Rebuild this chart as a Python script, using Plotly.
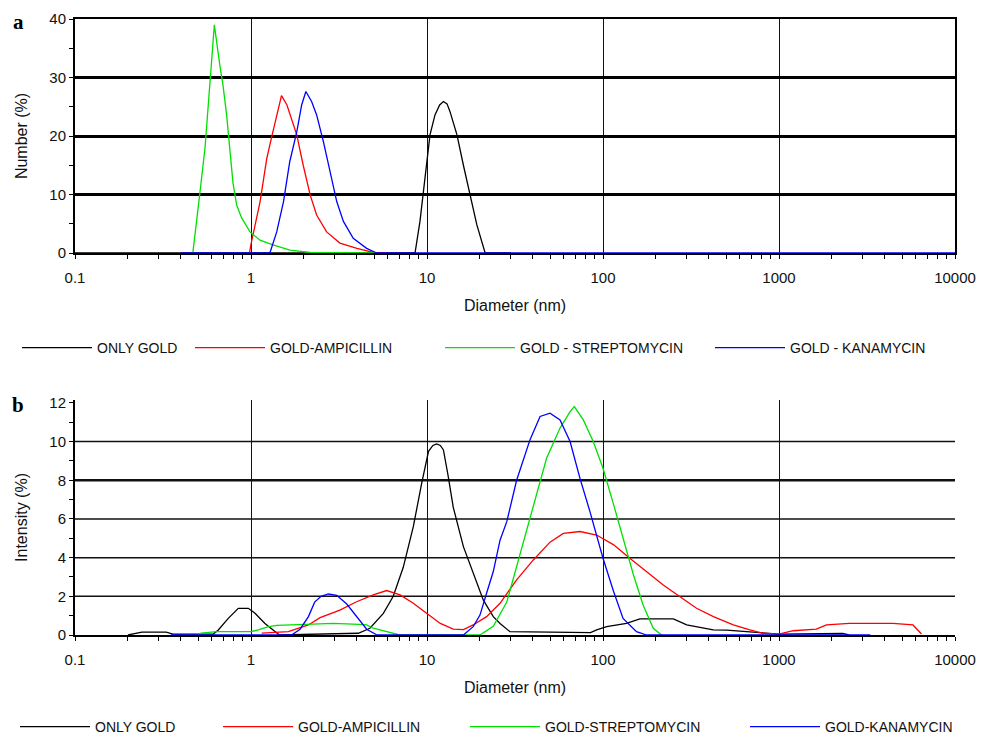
import plotly.graph_objects as go

# ---------------- DATA ----------------
series_names_a = ["ONLY GOLD", "GOLD-AMPICILLIN", "GOLD - STREPTOMYCIN", "GOLD - KANAMYCIN"]
series_names_b = ["ONLY GOLD", "GOLD-AMPICILLIN", "GOLD-STREPTOMYCIN", "GOLD-KANAMYCIN"]
series_colors = ["#000000", "#ff0000", "#00e000", "#0000ff"]

x_tick_vals = [0.1, 1, 10, 100, 1000, 10000]
x_tick_text = ["0.1", "1", "10", "100", "1000", "10000"]
y_ticks_a = [0, 10, 20, 30, 40]
y_ticks_b = [0, 2, 4, 6, 8, 10, 12]
grid_b = [2, 4, 6, 8, 10]

# Panel a: Number (%)
gold_a_x = [0.1, 8.55, 9.12, 9.75, 10.4, 11.1, 11.8, 12.4, 13.0, 13.5, 14.8, 16.1, 17.5, 19.2, 21.4, 30]
gold_a_y = [0, 0, 5.4, 13.3, 20.2, 23.6, 25.3, 25.9, 25.5, 24.2, 20.2, 15.0, 9.9, 4.8, 0, 0]

amp_a_x = [0.98, 1.0, 1.125, 1.23, 1.31, 1.40, 1.49, 1.60, 1.70, 1.82, 1.98, 2.17, 2.36, 2.69, 3.2, 4.0, 4.95, 6.0]
amp_a_y = [0, 1.5, 8.7, 16.2, 19.8, 23.6, 26.9, 25.3, 22.7, 20.2, 15.0, 9.9, 6.5, 3.6, 1.7, 0.8, 0.1, 0]

strep_a_x = [0.467, 0.481, 0.513, 0.548, 0.585, 0.619, 0.666, 0.693, 0.727, 0.760, 0.790, 0.829, 0.885,
             0.987, 1.125, 1.334, 1.666, 2.17, 5.1]
strep_a_y = [0, 3.6, 10.4, 18, 30, 39, 32, 28.7, 23.6, 16.8, 12, 8.2, 6, 3.6, 2.2, 1.4, 0.5, 0.1, 0]

kan_a_x = [0.4, 1.28, 1.40, 1.53, 1.66, 1.82, 1.94, 2.05, 2.21, 2.36, 2.58, 2.81, 3.07, 3.35, 3.81, 4.54,
           5.18, 10000]
kan_a_y = [0, 0, 3.6, 8.8, 15.6, 20.7, 25.3, 27.6, 25.9, 23.6, 19.0, 13.9, 8.8, 5.4, 2.5, 0.8, 0, 0]

# Panel b: Intensity (%)
gold_b_x = [0.2, 0.21, 0.24, 0.33, 0.36, 0.61, 0.652, 0.743, 0.847, 0.966, 1.054, 1.2, 1.37, 1.45, 4.07,
            4.74, 5.65, 6.43, 7.33, 8.36, 9.33, 10.2, 10.8, 11.35, 11.9, 12.4, 13.2, 14.1, 16.1, 18.3, 20.9,
            23.8, 26, 29.6, 85, 92, 105, 136, 162, 251, 299, 423, 505, 777, 1000, 2300, 2500]
gold_b_y = [0, 0.05, 0.15, 0.15, 0.05, 0.05, 0.26, 0.86, 1.38, 1.38, 1.12, 0.6, 0.17, 0, 0.09,
            0.35, 1.12, 2.0, 3.5, 5.6, 7.85, 9.5, 9.8, 9.88, 9.8, 9.57, 8.2, 6.6, 4.57, 3.2, 1.8,
            0.95, 0.6, 0.17, 0.12, 0.26, 0.43, 0.6, 0.83, 0.83, 0.52, 0.26, 0.25, 0.12, 0.05, 0.08, 0]

amp_b_x = [1.15, 1.63, 2.12, 2.47, 3.2, 3.98, 4.95, 5.9, 7.03, 8.36, 9.95, 11.9, 14.1, 16.1, 18.3, 21.8,
           26, 32.3, 40.2, 50, 59.5, 74, 92, 115, 142, 177, 220, 274, 340, 424, 550, 684, 813, 1000,
           1203, 1630, 1860, 2510, 4440, 5770, 6450]
amp_b_y = [0.1, 0.17, 0.52, 0.9, 1.29, 1.72, 2.07, 2.3, 2.07, 1.64, 1.12, 0.6, 0.3, 0.28, 0.52, 0.95,
           1.64, 2.85, 3.88, 4.8, 5.25, 5.35, 5.17, 4.66, 3.97, 3.28, 2.59, 1.98, 1.38, 0.95, 0.52, 0.26,
           0.09, 0.05, 0.22, 0.3, 0.52, 0.6, 0.6, 0.52, 0.05]

strep_b_x = [0.5, 0.52, 0.64, 1.0, 1.1, 1.26, 1.4, 1.7, 2.12, 2.94, 4.13, 4.54, 4.95, 5.9, 7.0, 20, 23.8,
             28.4, 33.7, 40.2, 47.8, 57, 65, 68.7, 77.3, 88, 100, 115, 130, 149, 169, 193, 215]
strep_b_y = [0, 0.1, 0.17, 0.17, 0.26, 0.43, 0.5, 0.52, 0.55, 0.6, 0.55, 0.52, 0.35, 0.17, 0, 0, 0.45,
             1.7, 4.14, 6.73, 9.14, 10.7, 11.55, 11.81, 11.12, 10.0, 8.62, 6.73, 5.0, 3.1, 1.55, 0.35, 0]

kan_b_x = [0.35, 1.7, 1.9, 2.12, 2.3, 2.5, 2.75, 3.07, 3.5, 3.98, 4.54, 5.2, 16.1, 18.3, 20, 21.8, 23.8,
           26, 28.4, 32.3, 38.5, 43.9, 50, 57, 65, 74, 84.3, 100, 115, 130, 155, 177, 3300]
kan_b_y = [0, 0, 0.3, 0.95, 1.7, 2.0, 2.12, 2.05, 1.6, 0.95, 0.3, 0, 0, 0.43, 1.03, 2.16, 3.28,
           4.9, 5.86, 8.0, 10.1, 11.3, 11.47, 11.12, 10.0, 8.1, 6.38, 3.97, 2.24, 0.86, 0.17, 0, 0]

data_a = [(gold_a_x, gold_a_y), (amp_a_x, amp_a_y), (strep_a_x, strep_a_y), (kan_a_x, kan_a_y)]
data_b = [(gold_b_x, gold_b_y), (amp_b_x, amp_b_y), (strep_b_x, strep_b_y), (kan_b_x, kan_b_y)]

# ---------------- FIGURE ----------------
W, H = 982, 737
ML, MR = 75, 27
PW = W - ML - MR

def sx(px):                 # screen px -> paper x
    return (px - ML) / PW

def sy(py):                 # screen px -> paper y (t=b=0)
    return 1 - py / H

fig = go.Figure()

legend_text_px_a = [97, 270, 520, 790]
legend_text_px_b = [95, 298, 545, 825]

for i, (xs, ys) in enumerate(data_a):
    fig.add_trace(go.Scatter(x=xs, y=ys, mode="lines", name=series_names_a[i],
                             line=dict(color=series_colors[i], width=1.3),
                             xaxis="x", yaxis="y", legend="legend" if i == 0 else f"legend{i+1}"))
for i, (xs, ys) in enumerate(data_b):
    fig.add_trace(go.Scatter(x=xs, y=ys, mode="lines", name=series_names_b[i],
                             line=dict(color=series_colors[i], width=1.3),
                             xaxis="x2", yaxis="y2", legend=f"legend{i+5}"))

tickfont = dict(family="Liberation Sans, Arial, sans-serif", size=15, color="#111")
titlefont = dict(family="Liberation Sans, Arial, sans-serif", size=16, color="#111")

xcommon = dict(type="log", range=[-1, 4], tickvals=x_tick_vals, ticktext=x_tick_text,
               showgrid=True, gridcolor="#111", gridwidth=1, showline=True, linecolor="#000",
               linewidth=2, ticks="outside", ticklen=4, tickcolor="#000", tickfont=tickfont,
               ticklabelstandoff=6, automargin=False,
               minor=dict(dtick="D1", ticks="outside", ticklen=4, tickcolor="#000", showgrid=False),
               zeroline=False, title=dict(text="Diameter (nm)", font=titlefont, standoff=15))

fig.update_layout(
    width=W, height=H,
    margin=dict(l=ML, r=MR, t=0, b=0, autoexpand=False),
    paper_bgcolor="white", plot_bgcolor="white",
    xaxis=dict(**xcommon, anchor="y", domain=[0, 1], mirror=True),
    yaxis=dict(domain=[sy(253), sy(19)], range=[0, 40], tickvals=y_ticks_a,
               showgrid=True, gridcolor="#000", gridwidth=2.5, showline=True, linecolor="#000",
               linewidth=2, mirror=True, ticks="outside", ticklen=4, tickcolor="#000",
               minor=dict(dtick=5, ticks="outside", ticklen=4, tickcolor="#000", showgrid=False),
               tickfont=tickfont, zeroline=False, automargin=False,
               title=dict(text="Number (%)", font=titlefont, standoff=18)),
    xaxis2=dict(**xcommon, anchor="y2", domain=[0, 1]),
    yaxis2=dict(domain=[sy(635), sy(400)], range=[0, 12.15], tickvals=y_ticks_b,
                showgrid=False, showline=True, linecolor="#000", linewidth=2,
                ticks="outside", ticklen=4, tickcolor="#000",
                minor=dict(dtick=1, ticks="outside", ticklen=4, tickcolor="#000", showgrid=False),
                tickfont=tickfont, zeroline=False, automargin=False,
                title=dict(text="Intensity (%)", font=titlefont, standoff=18)),
    showlegend=True,
)

legfont = dict(family="Liberation Sans Narrow, Arial Narrow, Liberation Sans, sans-serif", size=14, color="#111")
for i in range(4):
    key = "legend" if i == 0 else f"legend{i+1}"
    fig.update_layout({key: dict(x=sx(legend_text_px_a[i] - 80), xanchor="left",
                                 y=sy(348), yanchor="middle", font=legfont,
                                 bgcolor="rgba(0,0,0,0)", itemwidth=70, orientation="h")})
    key2 = f"legend{i+5}"
    fig.update_layout({key2: dict(x=sx(legend_text_px_b[i] - 80), xanchor="left",
                                  y=sy(727), yanchor="middle", font=legfont,
                                  bgcolor="rgba(0,0,0,0)", itemwidth=70, orientation="h")})

# bottom-panel horizontal grid lines
for g in grid_b:
    fig.add_shape(type="line", xref="x2 domain", yref="y2", x0=0, x1=1, y0=g, y1=g,
                  line=dict(color="#111", width=2.5 if g == 8 else 1.5), layer="below")

# panel labels
fig.add_annotation(text="<b>a</b>", xref="paper", yref="paper", x=sx(18), y=sy(22),
                   xanchor="center", yanchor="middle", showarrow=False,
                   font=dict(family="Liberation Serif, serif", size=21, color="#000"))
fig.add_annotation(text="<b>b</b>", xref="paper", yref="paper", x=sx(18), y=sy(405),
                   xanchor="center", yanchor="middle", showarrow=False,
                   font=dict(family="Liberation Serif, serif", size=21, color="#000"))

fig.write_html("out.html", config={"displayModeBar": False},
               post_script="document.body.style.margin='0';document.body.style.overflow='hidden';")
